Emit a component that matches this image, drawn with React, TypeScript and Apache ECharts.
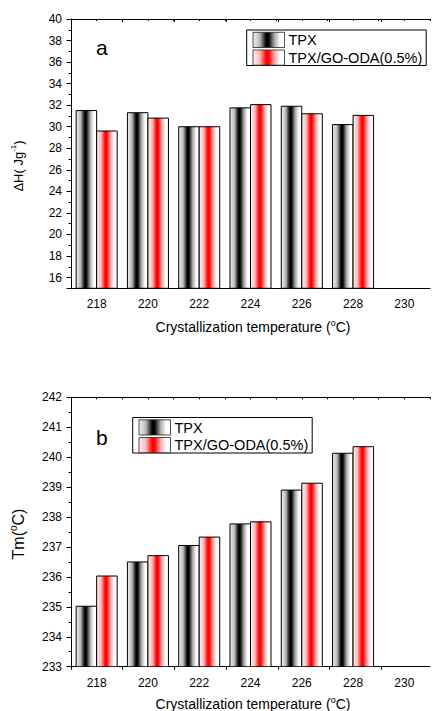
import React, { useEffect, useRef } from 'react';
import * as echarts from 'echarts';

// Crystallization temperatures (°C) shared by both panels
const temps = [218, 220, 222, 224, 226, 228];
// Panel a: melting enthalpy ΔH (J/g)
const enthalpyTPX = [31.5, 31.3, 30.0, 31.75, 31.9, 30.2];
const enthalpyComposite = [29.6, 30.8, 30.0, 32.05, 31.2, 31.05];
// Panel b: melting temperature Tm (°C)
const meltTPX = [235.02, 236.5, 237.05, 237.77, 238.9, 240.13];
const meltComposite = [236.03, 236.71, 237.33, 237.84, 239.13, 240.35];

const seriesNames = ['TPX', 'TPX/GO-ODA(0.5%)'];
const panelLetters = ['a', 'b'];
const xTickLabels = [218, 220, 222, 224, 226, 228, 230];

const X_MIN = 217;
const X_MAX = 231;
const A_MIN = 15;
const A_MAX = 40;
const B_MIN = 233;
const B_MAX = 242;
const BAR_SPAN = 0.8;
const FONT = "'Liberation Sans', Arial, sans-serif";

const grayFill = () =>
  new echarts.graphic.LinearGradient(0, 0, 1, 0, [
    { offset: 0, color: '#f2f2f2' },
    { offset: 0.22, color: '#b8b8b8' },
    { offset: 0.42, color: '#000000' },
    { offset: 0.5, color: '#050505' },
    { offset: 0.68, color: '#a8a8a8' },
    { offset: 0.86, color: '#ffffff' },
    { offset: 1, color: '#ffffff' },
  ]);

const redFill = () =>
  new echarts.graphic.LinearGradient(0, 0, 1, 0, [
    { offset: 0, color: '#fff3f3' },
    { offset: 0.22, color: '#ffb8b8' },
    { offset: 0.42, color: '#ff0000' },
    { offset: 0.5, color: '#ff0505' },
    { offset: 0.68, color: '#ffa8a8' },
    { offset: 0.86, color: '#ffffff' },
    { offset: 1, color: '#ffffff' },
  ]);

const black = { color: '#000', width: 1 };

function barSeries(
  name: string,
  values: number[],
  xAxisIndex: number,
  yAxisIndex: number,
  side: number,
  floor: number,
  fill: any
) {
  return {
    type: 'custom',
    name,
    xAxisIndex,
    yAxisIndex,
    clip: true,
    data: temps.map((t, i) => [t, values[i]]),
    encode: { x: 0, y: 1 },
    renderItem: (_params: any, api: any) => {
      const t = api.value(0) as number;
      const v = api.value(1) as number;
      const left = side < 0 ? t - BAR_SPAN : t;
      const right = left + BAR_SPAN;
      const p0 = api.coord([left, v]);
      const p1 = api.coord([right, floor]);
      return {
        type: 'rect',
        shape: { x: p0[0], y: p0[1], width: p1[0] - p0[0], height: p1[1] - p0[1] },
        style: { fill, stroke: '#000', lineWidth: 1 },
      };
    },
  };
}

function mainXAxis(gridIndex: number) {
  return {
    type: 'value',
    gridIndex,
    position: 'bottom',
    min: X_MIN,
    max: X_MAX,
    interval: 1,
    axisLine: { show: true, onZero: false, lineStyle: black },
    axisTick: { show: false },
    splitLine: { show: false },
    axisLabel: {
      formatter: (v: number) => (xTickLabels.includes(v) ? String(v) : ''),
      margin: 10,
      fontSize: 12,
      color: '#000',
      fontFamily: FONT,
    },
  };
}

function topXAxis(gridIndex: number) {
  return {
    type: 'value',
    gridIndex,
    position: 'top',
    min: X_MIN,
    max: X_MAX,
    interval: 1,
    axisLine: { show: true, onZero: false, lineStyle: black },
    axisTick: { show: true, inside: true, length: 2, lineStyle: black },
    axisLabel: { show: false },
    splitLine: { show: false },
  };
}

function oddTickXAxis(gridIndex: number) {
  return {
    type: 'value',
    gridIndex,
    position: 'bottom',
    min: X_MIN,
    max: X_MAX,
    interval: 2,
    axisLine: { show: false },
    axisTick: { show: true, length: 3, lineStyle: black },
    axisLabel: { show: false },
    splitLine: { show: false },
  };
}

const richName = (size: number, supSize: number) => ({
  n: { fontSize: size, fontFamily: FONT, fill: '#000', color: '#000', lineHeight: size + 4 },
  s: {
    fontSize: supSize,
    fontFamily: FONT,
    fill: '#000',
    color: '#000',
    lineHeight: supSize,
    verticalAlign: 'top',
  },
});

function label(text: string, x: number, y: number, size: number, supSize: number, rotation = 0) {
  return {
    type: 'text',
    x,
    y,
    rotation,
    silent: true,
    style: {
      text,
      rich: richName(size, supSize),
      align: 'center',
      verticalAlign: 'middle',
      textAlign: 'center',
      textVerticalAlign: 'middle',
      fill: '#000',
    },
  };
}

function plainText(text: string, x: number, y: number, size: number, align = 'left') {
  return {
    type: 'text',
    x,
    y,
    silent: true,
    style: {
      text,
      fontSize: size,
      fontFamily: FONT,
      fill: '#000',
      align,
      verticalAlign: 'middle',
      textAlign: align,
      textVerticalAlign: 'middle',
    },
  };
}

function legendBox(left: number, top: number) {
  return [
    {
      type: 'rect',
      silent: true,
      shape: { x: left, y: top, width: 179.5, height: 35.5 },
      style: { fill: '#fff', stroke: '#000', lineWidth: 1 },
    },
    {
      type: 'rect',
      silent: true,
      shape: { x: left + 6.3, y: top + 2.3, width: 31.5, height: 15.2 },
      style: { fill: grayFill(), stroke: '#222', lineWidth: 0.8 },
    },
    {
      type: 'rect',
      silent: true,
      shape: { x: left + 6.3, y: top + 20, width: 31.5, height: 15.2 },
      style: { fill: redFill(), stroke: '#222', lineWidth: 0.8 },
    },
    plainText(seriesNames[0], left + 41.8, top + 10.2, 14.5),
    plainText(seriesNames[1], left + 41.8, top + 27.8, 14.5),
  ];
}

const xName = '{n|Crystallization temperature (}{s|o}{n|C)}';

function buildOption() {
  const gridA = { left: 71, top: 19, width: 364, height: 269.3 };
  const gridB = { left: 71, top: 397.3, width: 364, height: 269.4 };
  return {
    animation: false,
    backgroundColor: '#fff',
    grid: [gridA, gridB, { ...gridA }, { ...gridB }],
    xAxis: [
      mainXAxis(0), // 0
      topXAxis(0), // 1
      mainXAxis(1), // 2
      topXAxis(1), // 3
      oddTickXAxis(2), // 4
      oddTickXAxis(3), // 5
    ],
    yAxis: [
      {
        type: 'value',
        gridIndex: 0,
        min: A_MIN,
        max: A_MAX,
        interval: 1,
        axisLine: { show: true, onZero: false, lineStyle: black },
        axisTick: { show: true, length: 2.5, lineStyle: black },
        splitLine: { show: false },
        axisLabel: {
          formatter: (v: number) => (v % 2 === 0 ? String(v) : ''),
          margin: 9,
          fontSize: 12,
          color: '#000',
          fontFamily: FONT,
        },
      },
      {
        type: 'value',
        gridIndex: 1,
        min: B_MIN,
        max: B_MAX,
        interval: 1,
        axisLine: { show: true, onZero: false, lineStyle: black },
        axisTick: { show: true, length: 4.5, lineStyle: black },
        minorTick: { show: true, splitNumber: 2, length: 2.5, lineStyle: black },
        splitLine: { show: false },
        axisLabel: { margin: 9, fontSize: 12, color: '#000', fontFamily: FONT },
      },
      {
        // long ticks at the even ΔH values (axis counted down from 40)
        type: 'value',
        gridIndex: 2,
        inverse: true,
        min: 0,
        max: A_MAX - A_MIN,
        interval: 2,
        axisLine: { show: false },
        axisTick: { show: true, length: 4.5, lineStyle: black },
        axisLabel: { show: false },
        splitLine: { show: false },
      },
      {
        type: 'value',
        gridIndex: 3,
        min: B_MIN,
        max: B_MAX,
        show: false,
        splitLine: { show: false },
      },
    ],
    series: [
      barSeries(seriesNames[0], enthalpyTPX, 0, 0, -1, A_MIN, grayFill()),
      barSeries(seriesNames[1], enthalpyComposite, 0, 0, 1, A_MIN, redFill()),
      barSeries(seriesNames[0], meltTPX, 2, 1, -1, B_MIN, grayFill()),
      barSeries(seriesNames[1], meltComposite, 2, 1, 1, B_MIN, redFill()),
    ],
    graphic: {
      elements: [
        plainText(panelLetters[0], 96, 47.5, 21),
        plainText(panelLetters[1], 96, 437, 21),
        ...legendBox(246.7, 30),
        ...legendBox(132.7, 417.5),
        label(xName, 253, 327, 14, 9),
        label(xName, 253, 704, 14, 9),
        label('{n|ΔH( Jg}{s|-1}{n|)}', 18, 166, 13, 8, Math.PI / 2),
        label('{n|Tm(}{s|o}{n|C)}', 18, 534, 16, 10, Math.PI / 2),
      ],
    },
  };
}

export default function App() {
  const ref = useRef<HTMLDivElement>(null);
  useEffect(() => {
    if (!ref.current) return;
    const chart = echarts.init(ref.current, null, { renderer: 'svg' });
    chart.setOption(buildOption() as any);
    return () => chart.dispose();
  }, []);
  return (
    <div
      ref={ref}
      style={{ position: 'absolute', left: 0, top: 0, width: 433, height: 711, background: '#fff' }}
    />
  );
}
